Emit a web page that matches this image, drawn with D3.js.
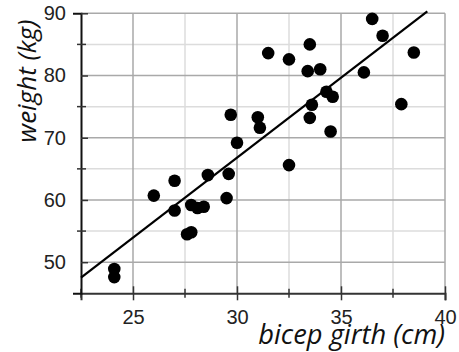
<!DOCTYPE html>
<html>
<head>
<meta charset="utf-8">
<script src="https://cdn.jsdelivr.net/npm/d3@7"></script>
<style>
  html, body { margin: 0; padding: 0; background: #fff; }
  svg { display: block; }
</style>
</head>
<body>
<svg id="chart" width="459" height="352"></svg>
<script>
// ---- data ----
const bicepGirth = [24.1, 24.1, 26.0, 27.0, 27.0, 27.6, 27.8, 27.8, 28.1, 28.4, 28.6, 29.5, 29.6, 29.7, 30.0,
                    31.0, 31.1, 31.5, 32.5, 32.5, 33.5, 33.4, 34.0, 34.3, 34.6, 33.6, 33.5, 34.5,
                    36.5, 37.0, 38.5, 36.1, 37.9];
const weight     = [48.9, 47.6, 60.7, 63.1, 58.3, 54.5, 54.8, 59.2, 58.7, 58.9, 64.0, 60.3, 64.2, 73.7, 69.2,
                    73.3, 71.6, 83.6, 82.6, 65.6, 85.0, 80.7, 81.0, 77.4, 76.6, 75.3, 73.2, 71.0,
                    89.1, 86.4, 83.7, 80.5, 75.4];
const fitLineX = [22.5, 39.15];
const fitLineY = [47.5, 90.3];
const xTickLabels = [25, 30, 35, 40];
const xMinorTicks = [22.5, 27.5, 32.5, 37.5];
const yTickLabels = [50, 60, 70, 80, 90];
const yMinorTicks = [55, 65, 75, 85];
const xTitle = "bicep girth (cm)";
const yTitle = "weight (kg)";

// ---- layout ----
const svg = d3.select("#chart");
const x = d3.scaleLinear().domain([22.5, 40]).range([81, 445]);
const y = d3.scaleLinear().domain([45, 90]).range([293.3, 13.3]);

const majorGrid = "#a9a9a9", minorGrid = "#dcdcdc";

// gridlines
const g = svg.append("g");
g.selectAll(".vmin").data(xMinorTicks.filter(d => d > 22.5)).join("line")
  .attr("x1", d => x(d)).attr("x2", d => x(d)).attr("y1", y(90)).attr("y2", y(45))
  .attr("stroke", minorGrid).attr("stroke-width", 1.5);
g.selectAll(".hmin").data(yMinorTicks).join("line")
  .attr("x1", x(22.5)).attr("x2", x(40)).attr("y1", d => y(d)).attr("y2", d => y(d))
  .attr("stroke", minorGrid).attr("stroke-width", 1.5);
g.selectAll(".vmaj").data(xTickLabels).join("line")
  .attr("x1", d => x(d)).attr("x2", d => x(d)).attr("y1", y(90)).attr("y2", y(45))
  .attr("stroke", majorGrid).attr("stroke-width", 1.5);
g.selectAll(".hmaj").data(yTickLabels).join("line")
  .attr("x1", x(22.5)).attr("x2", x(40)).attr("y1", d => y(d)).attr("y2", d => y(d))
  .attr("stroke", majorGrid).attr("stroke-width", 1.5);

// axes
const axisColor = "#333";
const xAxis = d3.axisBottom(x).tickValues(xTickLabels).tickSize(7).tickPadding(10).tickFormat(d3.format("d"));
const xAxisG = svg.append("g").attr("transform", `translate(0,${y(45)})`).call(xAxis);
xAxisG.select(".domain").attr("stroke", axisColor).attr("stroke-width", 2);
xAxisG.selectAll(".tick line").attr("stroke", axisColor).attr("stroke-width", 1.5).attr("y1", -7);
xAxisG.selectAll(".tick text").attr("fill", "#222").attr("font-family", "Liberation Sans, Arial, sans-serif").attr("font-size", 20);
xAxisG.selectAll(".minor").data(xMinorTicks).join("line").attr("class", "minor")
  .attr("x1", d => x(d)).attr("x2", d => x(d)).attr("y1", -4.5).attr("y2", 4.5)
  .attr("stroke", axisColor).attr("stroke-width", 1.5);

const yAxis = d3.axisLeft(y).tickValues(yTickLabels).tickSize(8).tickPadding(7).tickFormat(d3.format("d"));
const yAxisG = svg.append("g").attr("transform", `translate(${x(22.5)},0)`).call(yAxis);
yAxisG.select(".domain").attr("stroke", "#111").attr("stroke-width", 2);
yAxisG.selectAll(".tick line").attr("stroke", axisColor).attr("stroke-width", 1.5).attr("x2", 7);
yAxisG.selectAll(".tick text").attr("fill", "#222").attr("font-family", "Liberation Sans, Arial, sans-serif").attr("font-size", 20);
yAxisG.selectAll(".minor").data(yMinorTicks).join("line").attr("class", "minor")
  .attr("x1", -4).attr("x2", 5).attr("y1", d => y(d)).attr("y2", d => y(d))
  .attr("stroke", axisColor).attr("stroke-width", 1.5);

// regression line
svg.append("line")
  .attr("x1", x(fitLineX[0])).attr("y1", y(fitLineY[0]))
  .attr("x2", x(fitLineX[1])).attr("y2", y(fitLineY[1]))
  .attr("stroke", "#000").attr("stroke-width", 2.2);

// points
svg.append("g").selectAll("circle").data(bicepGirth.map((b, i) => [b, weight[i]])).join("circle")
  .attr("cx", d => x(d[0])).attr("cy", d => y(d[1])).attr("r", 6.3).attr("fill", "#000");

// titles
svg.append("text")
  .attr("x", 445).attr("y", 344)
  .attr("text-anchor", "end")
  .attr("font-family", "Open Sans, sans-serif").attr("font-style", "italic")
  .attr("font-size", 27.3).attr("fill", "#111")
  .text(xTitle);
svg.append("text")
  .attr("transform", "translate(36,81) rotate(-90)")
  .attr("text-anchor", "middle")
  .attr("font-family", "Open Sans, sans-serif").attr("font-style", "italic")
  .attr("font-size", 26).attr("fill", "#111")
  .text(yTitle);
</script>
</body>
</html>
